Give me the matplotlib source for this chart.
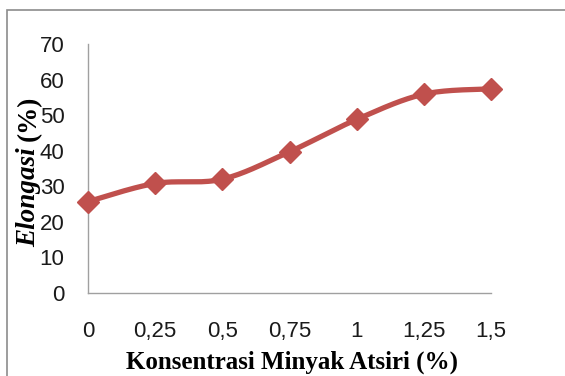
import numpy as np
import matplotlib
matplotlib.use("Agg")
import matplotlib.pyplot as plt
from matplotlib.patches import Rectangle

categories = ["0", "0,25", "0,5", "0,75", "1", "1,25", "1,5"]
elongasi = [25.7, 30.8, 32.0, 39.7, 48.8, 55.9, 57.4]
y_ticks = [0, 10, 20, 30, 40, 50, 60, 70]

color = "#C0504D"

fig = plt.figure(figsize=(5.65, 3.76), dpi=100)
ax = fig.add_axes([88/565, 1-293/376, (491-88)/565, (293-44)/376])

x = np.arange(len(categories), dtype=float)
y = np.array(elongasi, dtype=float)

# Excel-style smoothed line (Catmull-Rom through the data points)
def catmull(xp, yp, n=30):
    P = np.column_stack([xp, yp])
    P = np.vstack([P[0], P, P[-1]])
    out = []
    for i in range(1, len(P) - 2):
        p0, p1, p2, p3 = P[i-1], P[i], P[i+1], P[i+2]
        c1 = p1 + (p2 - p0) / 6
        c2 = p2 - (p3 - p1) / 6
        t = np.linspace(0, 1, n)[:, None]
        seg = (1-t)**3*p1 + 3*(1-t)**2*t*c1 + 3*(1-t)*t**2*c2 + t**3*p2
        out.append(seg if i == 1 else seg[1:])
    s = np.vstack(out)
    return s[:, 0], s[:, 1]

sx, sy = catmull(x, y)
ax.plot(sx, sy, color=color, lw=3.8, solid_capstyle="round", zorder=3, clip_on=False)
ax.plot(x, y, linestyle="none", marker="D", ms=11.5, color=color, zorder=4, clip_on=False)

ax.set_xlim(0, len(categories) - 1)
ax.set_ylim(0, 70)
ax.set_xticks(x)
ax.set_xticklabels(categories)
ax.set_yticks(y_ticks)
ax.tick_params(length=0, labelsize=16, colors="#1a1a1a")
ax.tick_params(axis="x", pad=20)
ax.tick_params(axis="y", pad=17)
for lab in ax.get_xticklabels() + ax.get_yticklabels():
    lab.set_fontfamily("Liberation Sans")

for s in ["top", "right"]:
    ax.spines[s].set_visible(False)
for s in ["left", "bottom"]:
    ax.spines[s].set_color("#A0A0A0")
    ax.spines[s].set_linewidth(1.0)

fig.text(126/565, 1-362/376, "Konsentrasi Minyak Atsiri (%)", ha="left", va="center",
         fontsize=18, fontweight="bold", family="Liberation Serif")
t1 = fig.text(29/565, 1-247/376, "Elongasi", rotation=90, ha="center", va="bottom",
              fontsize=19.5, fontweight="bold", fontstyle="italic", family="Liberation Serif")
fig.canvas.draw()
bb = t1.get_window_extent(fig.canvas.get_renderer())
top_px = bb.y1 + 6
fig.text(29/565, top_px/376, "(%)", rotation=90, ha="center", va="bottom",
         fontsize=19.5, fontweight="bold", family="Liberation Serif")

fig.patches.append(Rectangle((7/565, -0.1), 1.2, 1.1 - 10/376,
                             transform=fig.transFigure, fill=False,
                             edgecolor="#8C8C8C", lw=1.2))

fig.savefig("out.png", dpi=100)
